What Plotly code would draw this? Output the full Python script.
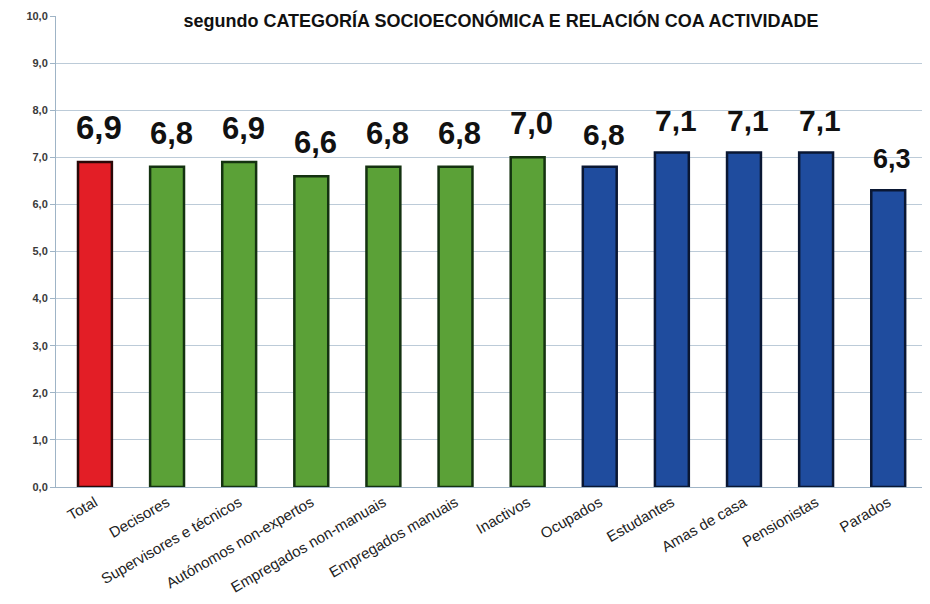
import plotly.graph_objects as go

categories = ["Total", "Decisores", "Supervisores e técnicos", "Autónomos non-expertos",
              "Empregados non-manuais", "Empregados manuais", "Inactivos", "Ocupados",
              "Estudantes", "Amas de casa", "Pensionistas", "Parados"]
values = [6.9, 6.8, 6.9, 6.6, 6.8, 6.8, 7.0, 6.8, 7.1, 7.1, 7.1, 6.3]
groups = ["total", "cat", "cat", "cat", "cat", "cat", "cat", "act", "act", "act", "act", "act"]
labels = ["6,9", "6,8", "6,9", "6,6", "6,8", "6,8", "7,0", "6,8", "7,1", "7,1", "7,1", "6,3"]
ytick_vals = [0, 1, 2, 3, 4, 5, 6, 7, 8, 9, 10]
ytick_text = ["0,0", "1,0", "2,0", "3,0", "4,0", "5,0", "6,0", "7,0", "8,0", "9,0", "10,0"]
title_text = "segundo CATEGORÍA SOCIOECONÓMICA E RELACIÓN COA ACTIVIDADE"

# label font sizes (style only)
label_sizes = [33, 31, 31, 31, 31, 31, 31, 30, 30, 30, 30, 27]

fill = {"total": "#e31e26", "cat": "#5ba137", "act": "#1f4c9e"}
edge = {"total": "#2a0808", "cat": "#143210", "act": "#0a1733"}

FONT = "Liberation Sans, Arial"

fig = go.Figure(go.Bar(
    x=categories, y=values,
    marker=dict(color=[fill[g] for g in groups],
                line=dict(color=[edge[g] for g in groups], width=2.5)),
    width=0.47,
    hoverinfo="x+y",
))

for c, v, lab, s in zip(categories, values, labels, label_sizes):
    fig.add_annotation(x=c, y=v, text="<b>" + lab + "</b>", showarrow=False,
                       xref="x", yref="y", yanchor="bottom", yshift=14, xshift=4,
                       font=dict(family=FONT, size=s, color="#111111"))

fig.update_layout(
    width=930, height=604,
    margin=dict(l=48, r=13, t=8, b=125, autoexpand=False),
    paper_bgcolor="white", plot_bgcolor="white",
    showlegend=False,
    font=dict(family=FONT),
    title=dict(text="<b>" + title_text + "</b>", x=0.53, xanchor="center",
               xref="container", yref="container",
               y=1, yanchor="top", pad=dict(t=6), automargin=False,
               font=dict(size=18, color="#111111")),
)
fig.update_yaxes(range=[0, 10], tickvals=ytick_vals, ticktext=ytick_text,
                 showgrid=True, gridcolor="#bccbd8", gridwidth=1,
                 showline=True, linecolor="#9fb4c6", linewidth=1,
                 ticks="outside", tickcolor="#9fb4c6", ticklen=5,
                 tickfont=dict(size=11, color="#3a3a3a", family=FONT, weight="bold"),
                 zeroline=False, automargin=False)
fig.update_xaxes(tickangle=-30, showline=True, linecolor="#9fb4c6", linewidth=1,
                 tickfont=dict(size=15, color="#222222", family=FONT),
                 ticks="", range=[-0.54, 11.51], automargin=False)
fig.write_html("out.html")
